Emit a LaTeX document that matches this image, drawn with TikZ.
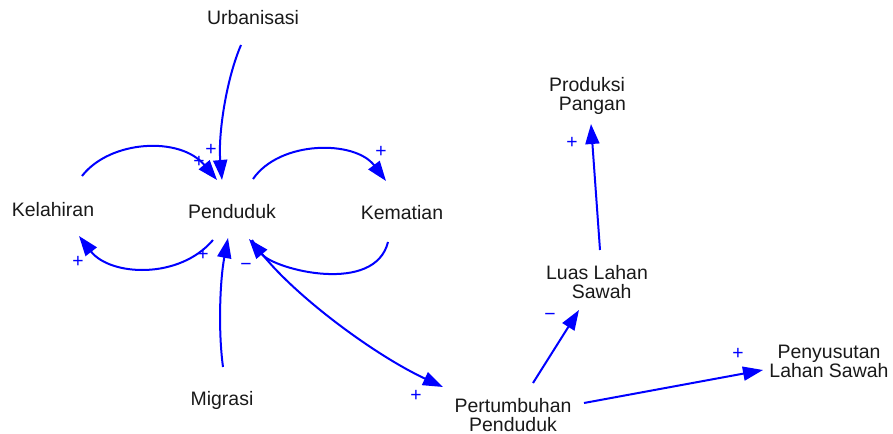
\documentclass[tikz,border=0pt]{standalone}
\usepackage{fontspec}
\setmainfont{Liberation Sans}
\usetikzlibrary{arrows.meta,calc}
\definecolor{linkblue}{RGB}{0,0,255}
\definecolor{labelgray}{RGB}{25,25,25}
\begin{document}
\begin{tikzpicture}[x=0.75pt,y=-0.75pt,
  var/.style={font=\fontsize{14.6}{14.3}\selectfont, text=labelgray, inner sep=0pt, align=center},
  single/.style={var, text height=10.5pt, text depth=3pt},
  link/.style={draw=linkblue, line width=1.5pt, -{Triangle[length=15pt,width=10.5pt]}},
  sgn/.style={text=linkblue, font=\fontsize{14.5}{14.5}\selectfont, inner sep=0pt}]
\useasboundingbox (0,0) rectangle (893,434);

% variables
\node[single] (urb)  at (253,20)  {Urbanisasi};
\node[single] (pen)  at (232,214) {Penduduk};
\node[single] (kel)  at (53,212)  {Kelahiran};
\node[single] (kem)  at (402,215) {Kematian};
\node[single] (mig)  at (222,401) {Migrasi};
\node[var]    (per)  at (513,415) {Pertumbuhan\\Penduduk};
\node[var]    (luas) at (597,282) {Luas Lahan\\\hspace*{7pt}Sawah};
\node[var]    (prod) at (587,96)  {Produksi\\\hspace*{8pt}Pangan};
\node[var]    (peny) at (829,361) {Penyusutan\\Lahan Sawah};

% polarity signs
\node[sgn] (s1)  at (211,150) {+};
\node[sgn] (s2)  at (199,162) {+};
\node[sgn] (s3)  at (381,152) {+};
\node[sgn] (s4)  at (78,262)  {+};
\node[sgn] (s5)  at (203,255) {+};
\node[sgn] (s6)  at (246,267) {−};
\node[sgn] (s7)  at (416,396) {+};
\node[sgn] (s8)  at (550,317) {−};
\node[sgn] (s9)  at (572,143) {+};
\node[sgn] (s10) at (738,354) {+};

% causal links
\draw[link] ($(urb)+(-12,25)$) .. controls +(-15,35) and +(-4,-45) .. ($(pen)+(-10,-34)$);
\draw[link] ($(kel)+(29,-36)$) .. controls +(28,-36) and +(-37,-44) .. ($(pen)+(-15,-34)$);
\draw[link] ($(pen)+(-19,26)$) .. controls +(-34,40) and +(31,40) .. ($(kel)+(26,24)$);
\draw[link] ($(pen)+(21,-35)$) .. controls +(27,-39) and +(-31,-41) .. ($(kem)+(-16,-34)$);
\draw[link] ($(kem)+(-14,27)$) .. controls +(-13,53) and +(26,31) .. ($(pen)+(17,25)$);
\draw[link] ($(mig)+(1,-34)$) .. controls +(-5,-37) and +(-8,42) .. ($(pen)+(-4,24)$);
\draw[link] ($(pen)+(20,26)$) .. controls +(28,45) and +(-73,-34) .. ($(per)+(-70,-28)$);
\draw[link] ($(per)+(20,-32)$) -- ($(luas)+(-18,28)$);
\draw[link] ($(luas)+(3,-32)$) -- ($(prod)+(4,28)$);
\draw[link] ($(per)+(71,-12)$) -- ($(peny)+(-66,9)$);
\end{tikzpicture}
\end{document}
